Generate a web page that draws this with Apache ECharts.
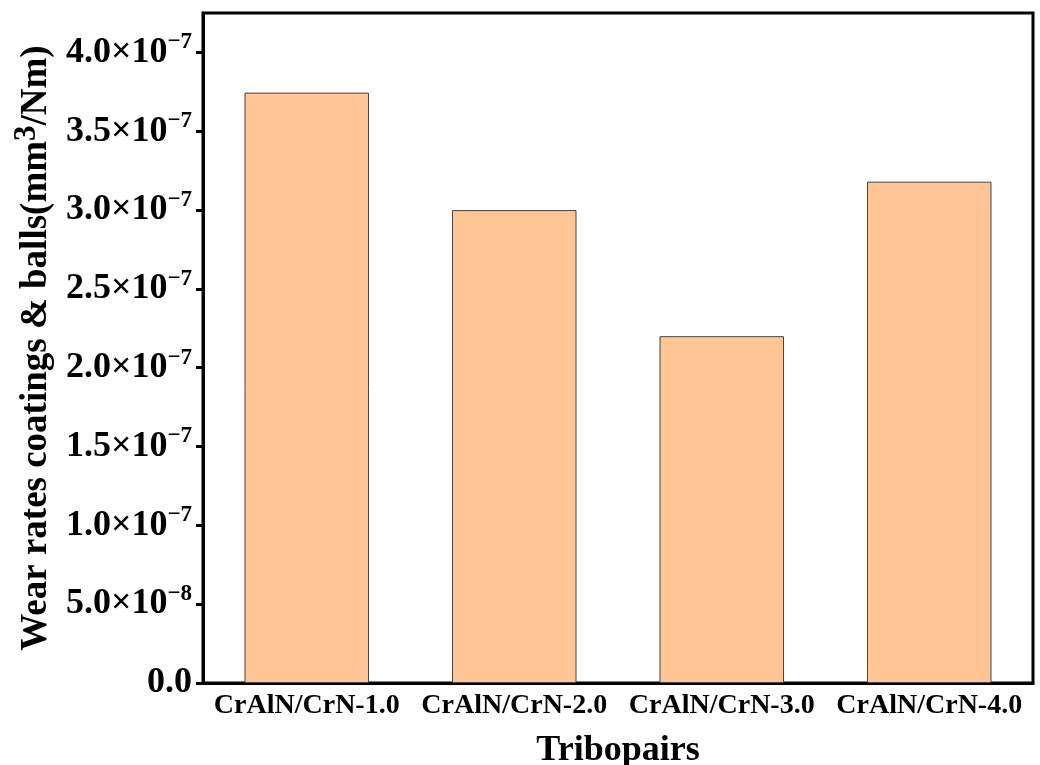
<!DOCTYPE html>
<html><head><meta charset="utf-8">
<script src="https://cdn.jsdelivr.net/npm/echarts@6/dist/echarts.min.js"></script>
<style>html,body{margin:0;padding:0;background:#fff}#c{width:1040px;height:765px}</style>
</head><body><div id="c"></div>
<script>
const categories = ['CrAlN/CrN-1.0','CrAlN/CrN-2.0','CrAlN/CrN-3.0','CrAlN/CrN-4.0'];
const wearRates = [3.745e-7, 3.0e-7, 2.2e-7, 3.18e-7];
const yTicks = [0, 5e-8, 1e-7, 1.5e-7, 2e-7, 2.5e-7, 3e-7, 3.5e-7, 4e-7];
const yMax = 4.25e-7;

const font = '"Liberation Serif","Times New Roman",serif';
function fmt(v){
  if (Math.abs(v) < 1e-20) return '0.0';
  const e = Math.floor(Math.log10(v) + 1e-9);
  const m = (v / Math.pow(10, e)).toFixed(1);
  return m + '×10{sup|−' + (-e) + '}';
}
const chart = echarts.init(document.getElementById('c'));
chart.setOption({
  animation:false,
  grid:{left:203,right:7,top:13,bottom:82,outerBoundsMode:'none',containLabel:false,show:true,borderColor:'#000',borderWidth:3,backgroundColor:'transparent'},
  xAxis:{
    type:'category', data:categories,
    name:'Tribopairs', nameLocation:'middle', nameGap:50,
    nameTextStyle:{fontFamily:font,fontWeight:'bold',fontSize:36,color:'#000'},
    axisLine:{lineStyle:{color:'#000',width:3}},
    axisTick:{show:false},
    axisLabel:{fontFamily:font,fontWeight:'bold',fontSize:28,color:'#000',margin:9,interval:0}
  },
  yAxis:{
    type:'value', min:0, max:yMax,
    name:'Wear rates coatings & balls(mm{s|3}/Nm)', nameLocation:'middle', nameGap:141,
    nameTextStyle:{fontFamily:font,fontWeight:'bold',fontSize:37,color:'#000',
      rich:{s:{fontFamily:font,fontWeight:'bold',fontSize:31,color:'#000',padding:[0,0,18,0]}}},
    axisLine:{show:true,lineStyle:{color:'#000',width:3}},
    axisTick:{show:true,length:7,lineStyle:{color:'#000',width:3},customValues:yTicks},
    splitLine:{show:false},
    axisLabel:{customValues:yTicks,formatter:fmt,fontFamily:font,fontWeight:'bold',fontSize:36,color:'#000',margin:11,
      rich:{sup:{fontFamily:font,fontWeight:'bold',fontSize:23,color:'#000',padding:[0,0,20,0]}}}
  },
  series:[{
    type:'bar', data:wearRates, barWidth:'60%',
    itemStyle:{color:'#FFC595',borderColor:'#444',borderWidth:1}
  }]
});
</script></body></html>
